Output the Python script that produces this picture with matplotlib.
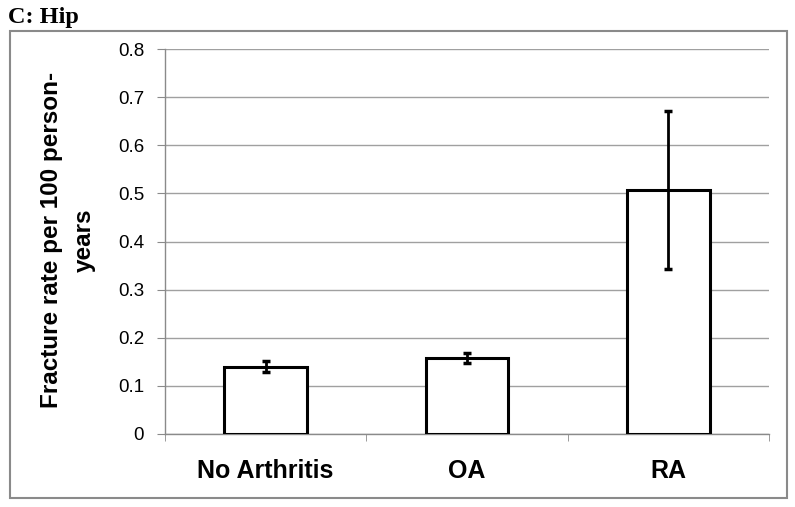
import matplotlib
matplotlib.use('Agg')
from matplotlib import pyplot as plt
from matplotlib.patches import Rectangle
import numpy as np

groups = ['No Arthritis', 'OA', 'RA']
rates = [0.139, 0.157, 0.507]
err_lo = [0.011, 0.010, 0.165]
err_hi = [0.012, 0.011, 0.164]

plt.rcParams['font.family'] = ['Liberation Sans', 'DejaVu Sans']

fig = plt.figure(figsize=(7.95, 5.07), dpi=100)
ax = fig.add_axes([165/795, 1-434/507, (769-165)/795, (434-49)/507])

x = np.arange(len(groups))
ax.bar(x, rates, width=0.41, color='white', edgecolor='black', linewidth=2.2, zorder=3)
ax.errorbar(x, rates, yerr=[err_lo, err_hi], fmt='none', ecolor='black',
            elinewidth=2.0, capsize=3, capthick=2.5, zorder=4)

ax.set_xlim(-0.5, 2.5)
ax.set_ylim(0, 0.8)
ax.set_yticks(np.arange(0, 0.81, 0.1))
ax.set_yticklabels(['0', '0.1', '0.2', '0.3', '0.4', '0.5', '0.6', '0.7', '0.8'], fontsize=13.5)
ax.yaxis.grid(True, color='#a0a0a0', linewidth=1.0, zorder=0)
ax.set_axisbelow(True)

ax.set_xticks(x)
ax.set_xticklabels(groups, fontsize=18, fontweight='bold')
ax.set_xticks([-0.5, 0.5, 1.5, 2.5], minor=True)
ax.tick_params(axis='x', which='major', length=0, pad=18)
ax.tick_params(axis='x', which='minor', length=5, color='#8a8a8a', direction='out')
ax.tick_params(axis='y', length=6, color='#8a8a8a', pad=9)

for s in ['top', 'right']:
    ax.spines[s].set_visible(False)
for s in ['left', 'bottom']:
    ax.spines[s].set_color('#8a8a8a')
    ax.spines[s].set_linewidth(1.0)

fig.text(68/795, 1-240/507, 'Fracture rate per 100 person-\nyears', rotation=90,
         ha='center', va='center', fontsize=17.5, fontweight='bold', linespacing=1.55)

fig.text(8/795, 1-18/507, 'C: Hip', fontsize=17.5, fontweight='bold',
         family=['Liberation Serif', 'DejaVu Serif'], va='center', ha='left')

fig.patches.append(Rectangle((10/795, 1-498/507), 777/795, (498-31)/507,
                             transform=fig.transFigure, fill=False,
                             edgecolor='#8a8a8a', linewidth=1.5))

fig.savefig('out.png', dpi=100)
